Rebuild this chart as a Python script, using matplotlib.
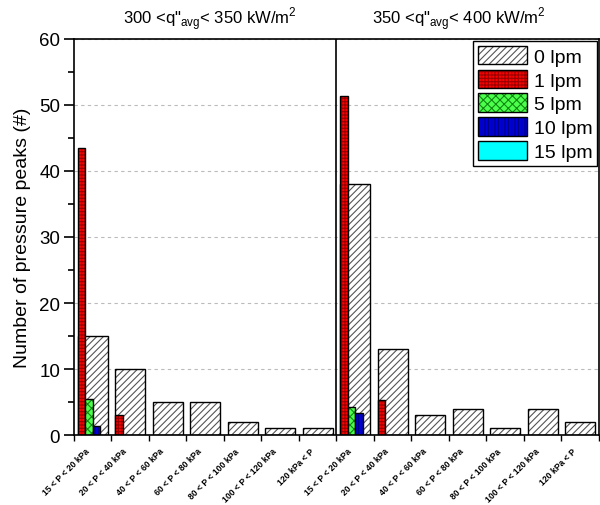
import numpy as np
import matplotlib.pyplot as plt
from matplotlib.patches import Patch

plt.rcParams['font.family'] = ['Liberation Sans', 'DejaVu Sans']
plt.rcParams['mathtext.fontset'] = 'custom'
plt.rcParams['mathtext.rm'] = 'Liberation Sans'
plt.rcParams['hatch.linewidth'] = 0.8

# pressure bins (same for both heat flux ranges)
bins = ['15 < P < 20 kPa', '20 < P < 40 kPa', '40 < P < 60 kPa', '60 < P < 80 kPa',
        '80 < P < 100 kPa', '100 < P < 120 kPa', '120 kPa < P']
titles = [r'300 <q"$_{\mathrm{avg}}$< 350 kW/m$^{\mathrm{2}}$',
          r'350 <q"$_{\mathrm{avg}}$< 400 kW/m$^{\mathrm{2}}$']

# number of peaks, left group (300-350) then right group (350-400)
lpm0 = [15, 10, 5, 5, 2, 1, 1, 38, 13, 3, 4, 1, 4, 2]
lpm1 = [43.5, 3, 0, 0, 0, 0, 0, 51.3, 5.3, 0, 0, 0, 0, 0]
lpm5 = [5.5, 0, 0, 0, 0, 0, 0, 4.3, 0, 0, 0, 0, 0, 0]
lpm10 = [1.3, 0, 0, 0, 0, 0, 0, 3.4, 0, 0, 0, 0, 0, 0]
lpm15 = [0, 0, 0, 0, 0, 0, 0, 0, 0, 0, 0, 0, 0, 0]

fig = plt.figure(figsize=(6, 5.06), dpi=100)
ax = fig.add_axes([0.1233, 0.1383, 0.875, 0.7827])

x = np.arange(len(lpm0))

# (values, offset, width, face, hatch, hatch colour, label)
series = [
    (lpm0, 0.1, 0.8, 'white', '/////', '#555555', '0 lpm'),
    (lpm1, 0.1, 0.2, '#ff0000', '+++++', '#990000', '1 lpm'),
    (lpm5, 0.3, 0.2, '#4dff4d', 'xxxx', '#118811', '5 lpm'),
    (lpm10, 0.5, 0.2, '#0000dd', '|||||', '#000077', '10 lpm'),
    (lpm15, 0.7, 0.2, '#00ffff', '', '#00ffff', '15 lpm'),
]
handles = []
for vals, off, w, fc, h, hc, lab in series:
    vals = np.array(vals)
    m = vals > 0
    ax.bar(x[m] + off, vals[m], width=w, align='edge', facecolor=fc,
           hatch=h, edgecolor=hc, linewidth=0, zorder=2)
    ax.bar(x[m] + off, vals[m], width=w, align='edge', fill=False,
           edgecolor='black', linewidth=1.0, zorder=2)
    handles.append((Patch(facecolor=fc, hatch=h, edgecolor=hc, linewidth=0),
                    Patch(fill=False, edgecolor='black', linewidth=1.0)))

ax.axvline(7, color='black', linewidth=1.2, zorder=3)

ax.set_xlim(0, 14)
ax.set_ylim(0, 60)
ax.set_yticks(np.arange(0, 61, 10))
ax.set_yticks(np.arange(5, 60, 10), minor=True)
ax.yaxis.grid(True, which='major', linestyle=(0, (3, 3)), color='#bbbbbb', linewidth=0.8)
ax.set_axisbelow(True)

ax.set_xticks(np.arange(0, 15))
ax.set_xticklabels([])
ax.set_xticks(x + 0.28, minor=True)
ax.set_xticklabels(bins + bins, minor=True, rotation=45, ha='right',
                   rotation_mode='anchor', fontsize=6.2, fontweight='bold')
ax.tick_params(axis='x', which='major', direction='out', length=4, width=1)
ax.tick_params(axis='x', which='minor', length=0, pad=8)
ax.tick_params(axis='y', which='major', direction='out', length=7, width=1.2,
               labelsize=13.5, pad=3)
ax.tick_params(axis='y', which='minor', direction='out', length=4, width=1.2)
for s in ax.spines.values():
    s.set_linewidth(1.2)

ax.set_ylabel('Number of pressure peaks (#)', fontsize=14, labelpad=6)

fig.text(0.35, 0.962, titles[0], ha='center', va='center', fontsize=12)
fig.text(0.765, 0.962, titles[1], ha='center', va='center', fontsize=12)

leg = ax.legend(handles, [s[6] for s in series], loc='upper right', fontsize=14,
                handlelength=2.5, handleheight=1.1, labelspacing=0.2,
                handletextpad=0.35, borderpad=0.25, borderaxespad=0.1,
                fancybox=False, framealpha=1, edgecolor='black')
leg.get_frame().set_linewidth(1.0)

fig.savefig('out.png', dpi=100)
